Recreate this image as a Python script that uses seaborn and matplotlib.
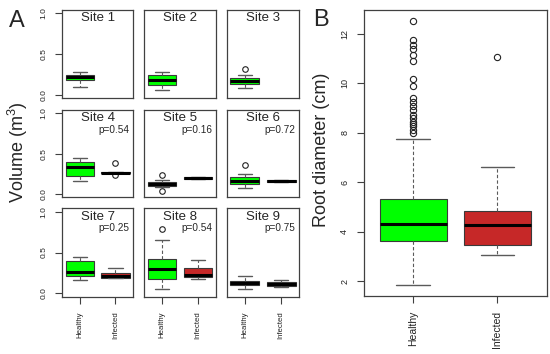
import pandas as pd
import numpy as np
import matplotlib
matplotlib.use("Agg")
import matplotlib.pyplot as plt
import seaborn as sns

# values
sites = ["Site 1", "Site 2", "Site 3", "Site 4", "Site 5",
         "Site 6", "Site 7", "Site 8", "Site 9"]
p_labels = [None, None, None, "p=0.54", "p=0.16", "p=0.72",
            "p=0.25", "p=0.54", "p=0.75"]
groups = ["Healthy", "Infected"]
box_colors = ["#00FF00", "#C62828"]

# panel A: tree volume (m3) per site
vol_healthy = [
    [0.10, 0.18, 0.215, 0.247, 0.283],
    [0.053, 0.125, 0.18, 0.24, 0.283],
    [0.085, 0.11, 0.134, 0.15, 0.17, 0.185, 0.20, 0.243, 0.31],
    [0.163, 0.22, 0.335, 0.40, 0.449],
    [0.04, 0.09, 0.105, 0.115, 0.122, 0.13, 0.145, 0.17, 0.237],
    [0.081, 0.10, 0.122, 0.14, 0.163, 0.19, 0.212, 0.245, 0.363],
    [0.168, 0.213, 0.262, 0.40, 0.447],
    [0.057, 0.12, 0.18, 0.24, 0.295, 0.35, 0.418, 0.652, 0.79],
    [0.049, 0.098, 0.123, 0.148, 0.209],
]
vol_infected = [
    [],
    [],
    [],
    [0.237, 0.258, 0.263, 0.268, 0.39],
    [0.185, 0.19, 0.20, 0.21, 0.215],
    [0.148, 0.152, 0.16, 0.168, 0.172],
    [0.185, 0.189, 0.209, 0.254, 0.307],
    [0.176, 0.20, 0.23, 0.311, 0.406],
    [0.08, 0.086, 0.119, 0.143, 0.168],
]

# panel B: root diameter (cm)
root_healthy = [
    1.84, 2.3, 2.6, 2.8, 2.95, 3.05, 3.12, 3.2, 3.26, 3.3, 3.34,
    3.38, 3.42, 3.45, 3.48, 3.51, 3.54, 3.56, 3.58, 3.6, 3.61,
    3.62,
    3.65, 3.68, 3.72, 3.75, 3.79, 3.83, 3.86, 3.9, 3.94, 3.98,
    4.02, 4.06, 4.09, 4.12, 4.15, 4.18, 4.21, 4.24, 4.27, 4.29,
    4.31,
    4.35, 4.4, 4.45, 4.5, 4.55, 4.6, 4.65, 4.7, 4.75, 4.8,
    4.86, 4.91, 4.96, 5.01, 5.06, 5.11, 5.16, 5.21, 5.26, 5.31,
    5.35,
    6.2, 7.74,
    8.0, 8.12, 8.26, 8.36, 8.46, 8.59, 8.73, 8.93, 9.09, 9.26,
    9.43, 9.89, 10.18, 10.91, 11.15, 11.39, 11.55, 11.76, 12.54,
]
root_infected = [3.05, 3.3, 3.46, 3.9, 4.27, 4.5, 4.85, 6.64, 11.07]

sns.set_theme(style="ticks")
plt.rcParams['font.family'] = ['Liberation Sans', 'DejaVu Sans']
plt.rcParams['mathtext.fontset'] = 'custom'
plt.rcParams['mathtext.rm'] = 'Liberation Sans'

W, H = 550, 354
fig = plt.figure(figsize=(W / 100, H / 100), dpi=100)


def add_ax(left, top, right, bottom):
    return fig.add_axes([left / W, 1 - bottom / H, (right - left) / W, (bottom - top) / H])


edge = "#3a3a3a"
whisk = "#5a5a5a"
box_kws = dict(order=groups, hue_order=groups, palette=box_colors,
               saturation=1, width=0.8, linecolor=edge, linewidth=0.8,
               whiskerprops=dict(linestyle="--", dashes=(3, 2), color=whisk),
               capprops=dict(color=whisk, linewidth=1.0),
               medianprops=dict(color="black", linewidth=2.2),
               legend=False)


def style_frame(ax):
    for sp in ax.spines.values():
        sp.set_visible(True)
        sp.set_color("#404040")
        sp.set_linewidth(0.9)
    ax.tick_params(direction="out", length=5.2, width=0.8, color="#404040",
                   labelcolor="#222222", pad=5.5)
    ax.set_xlabel("")
    ax.set_ylabel("")


cols = [(62, 133.3), (144, 216), (226.7, 299.3)]
rows = [(10, 98), (110, 197.3), (208.3, 296.7)]

for k, site in enumerate(sites):
    r, c = divmod(k, 3)
    ax = add_ax(cols[c][0], rows[r][0], cols[c][1], rows[r][1])
    df = pd.DataFrame({
        "status": ["Healthy"] * len(vol_healthy[k]) + ["Infected"] * len(vol_infected[k]),
        "volume": vol_healthy[k] + vol_infected[k],
    })
    sns.boxplot(data=df, x="status", y="volume", hue="status", ax=ax,
                flierprops=dict(marker="o", markerfacecolor="none",
                                markeredgecolor="#222222", markersize=4,
                                markeredgewidth=0.8),
                **box_kws)
    style_frame(ax)
    ax.set_xlim(-0.5, 1.5)
    ax.set_ylim(-0.04, 1.04)
    if r == 2:
        ax.set_xticks([0, 1], groups, rotation=90, fontsize=5.6)
    else:
        ax.set_xticks([])
    if c == 0:
        ax.set_yticks([0, 0.5, 1.0], ["0.0", "0.5", "1.0"], rotation=90,
                      fontsize=6, va="center")
    else:
        ax.set_yticks([])
    ax.text(0.5, 0.975, site, transform=ax.transAxes, ha="center", va="top",
            fontsize=9.5)
    if p_labels[k]:
        ax.text(0.95, 0.83, p_labels[k], transform=ax.transAxes, ha="right",
                va="top", fontsize=7.2)

# panel B
axb = add_ax(364, 9.7, 546.7, 296)
dfb = pd.DataFrame({
    "status": ["Healthy"] * len(root_healthy) + ["Infected"] * len(root_infected),
    "diameter": root_healthy + root_infected,
})
sns.boxplot(data=dfb, x="status", y="diameter", hue="status", ax=axb,
            flierprops=dict(marker="o", markerfacecolor="none",
                            markeredgecolor="#222222", markersize=4.5,
                            markeredgewidth=0.8),
            **box_kws)
style_frame(axb)
axb.set_xlim(-0.585, 1.585)
axb.set_ylim(1.41, 12.98)
axb.set_xticks([0, 1], groups, rotation=90, fontsize=7.5)
axb.set_yticks([2, 4, 6, 8, 10, 12], ["2", "4", "6", "8", "10", "12"],
               rotation=90, fontsize=6.5, va="center")

fig.text(18 / W, 1 - 152 / H, "Volume (m$^{3}$)", rotation=90,
         ha="center", va="center", fontsize=13)
fig.text(322 / W, 1 - 150 / H, "Root diameter (cm)", rotation=90,
         ha="center", va="center", fontsize=13)
fig.text(17 / W, 1 - 21 / H, "A", ha="center", va="center", fontsize=17)
fig.text(321 / W, 1 - 20 / H, "B", ha="center", va="center", fontsize=17)

fig.savefig("out.png", dpi=100)
